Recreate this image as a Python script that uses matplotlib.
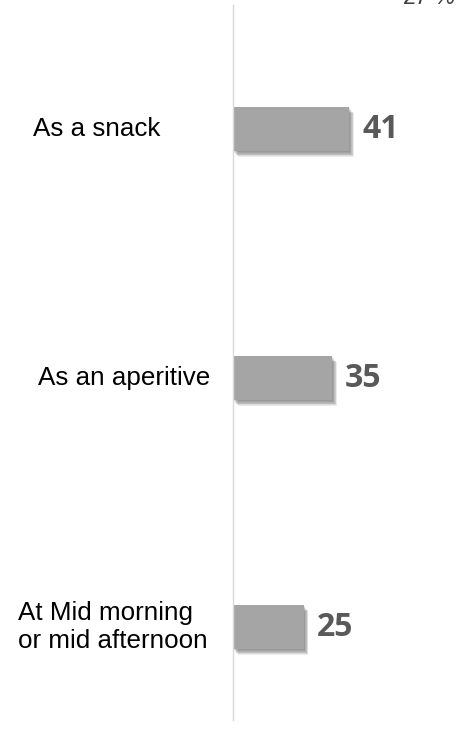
import matplotlib.pyplot as plt
import matplotlib.patheffects as pe
import matplotlib.transforms as mtransforms

# Dados
categorias = ["As a snack", "As an aperitive", "At Mid morning\nor mid afternoon"]
valores = [41, 35, 25]
texto_topo = "27 %"

# Layout (pixels da figura)
rotulo_x_px = [33, 38, 18]

fig = plt.figure(figsize=(4.71, 7.49), dpi=100)
ax = fig.add_axes([233 / 471, 29 / 749, 1 - 233 / 471, 715 / 749])

posicoes = list(range(len(categorias)))
barras = ax.barh(posicoes, valores, height=0.176, color="#A5A5A5", zorder=2)

# Sombra "borrada" feita com várias camadas de sombra leve
sombras = []
for d in [0.8, 1.4, 2.0, 2.6, 3.2, 3.8, 4.4]:
    sombras.append(pe.SimplePatchShadow(offset=(d * 0.75, -d), shadow_rgbFace="#333333", alpha=0.09))
sombras.append(pe.Normal())
for b in barras:
    b.set_path_effects(sombras)

ax.set_xlim(0, 84)
ax.set_ylim(2.373, -0.498)

# Valores ao lado das barras
for p, v in zip(posicoes, valores):
    ax.text(v + 4.6, p, str(v), va="center", ha="left", fontsize=23,
            fontweight="bold", color="#595959", family="Open Sans")

# Rótulos das categorias
trans = mtransforms.blended_transform_factory(fig.transFigure, ax.transData)
for p, c, xp in zip(posicoes, categorias, rotulo_x_px):
    ax.text(xp / 471, p, c, transform=trans, va="center", ha="left",
            multialignment="left", fontsize=18.7, color="black",
            family="Liberation Sans")

# Texto cortado no topo
fig.text(403 / 471, 1 - 4 / 749, texto_topo, va="baseline", ha="left", fontsize=16.5,
         style="italic", color="#404040", family="Liberation Sans")

for s in ["top", "right", "bottom"]:
    ax.spines[s].set_visible(False)
ax.spines["left"].set_color("#D9D9D9")
ax.spines["left"].set_linewidth(1.0)
ax.set_xticks([])
ax.set_yticks([])

fig.savefig("out.png", dpi=100)
